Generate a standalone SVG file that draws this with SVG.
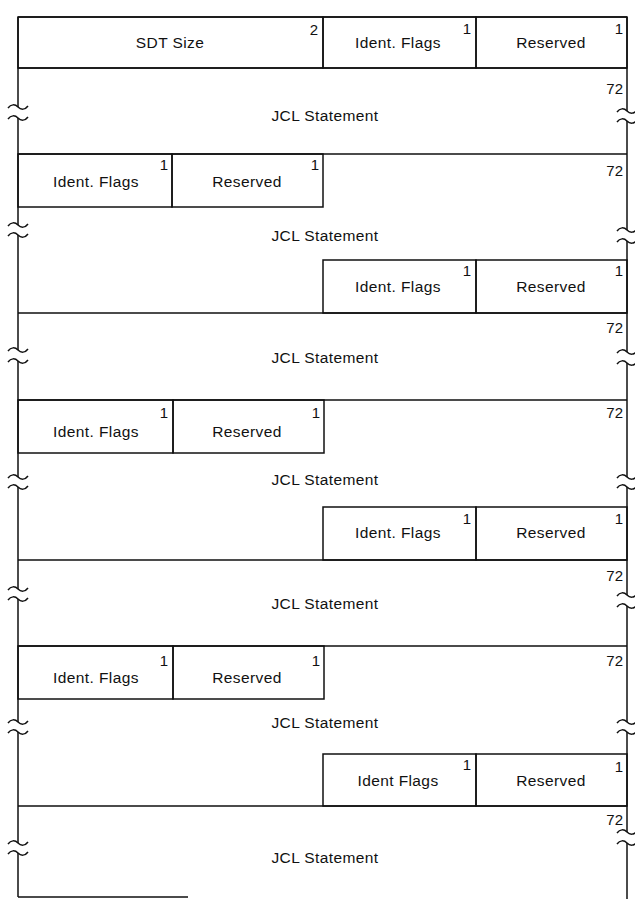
<svg xmlns="http://www.w3.org/2000/svg" width="635" height="899" viewBox="0 0 635 899">
<style>
.bx{fill:none;stroke:#111;stroke-width:1.5}
.ln{fill:none;stroke:#111;stroke-width:1.5}
.t{font-family:"Liberation Sans",Arial,sans-serif;font-size:15.5px;fill:#111;text-anchor:middle;letter-spacing:0.4px}
.n{font-family:"Liberation Sans",Arial,sans-serif;font-size:15px;fill:#111;text-anchor:end}
</style>
<defs>
<path id="tl" d="M-10,1 C-7,-3 -3,-3 0,0 C3,3 7,3 10,-1" class="ln"/>
</defs>
<rect width="635" height="899" fill="#fff"/>
<g id="connectors">
<path class="ln" d="M18,17H627M18,68H627M18,154H627M18,313H627M18,400H627M18,560H627M18,646H627M18,806H627M18,897H188"/>
<path class="ln" d="M18,17V107M18,118V225M18,235V350M18,361V477M18,487V589M18,599V722M18,732V843M18,853V897"/>
<path class="ln" d="M627,17V111M627,121V230M627,241V352M627,363V477M627,487V595M627,606V722M627,732V832M627,843V899"/>
<g id="breaks-left">
<use href="#tl" x="18" y="107"/><use href="#tl" x="18" y="118"/>
<use href="#tl" x="18" y="225"/><use href="#tl" x="18" y="235"/>
<use href="#tl" x="18" y="350"/><use href="#tl" x="18" y="361"/>
<use href="#tl" x="18" y="477"/><use href="#tl" x="18" y="487"/>
<use href="#tl" x="18" y="589"/><use href="#tl" x="18" y="599"/>
<use href="#tl" x="18" y="722"/><use href="#tl" x="18" y="732"/>
<use href="#tl" x="18" y="843"/><use href="#tl" x="18" y="853"/>
</g>
<g id="breaks-right">
<use href="#tl" x="627" y="111"/><use href="#tl" x="627" y="121"/>
<use href="#tl" x="627" y="230"/><use href="#tl" x="627" y="241"/>
<use href="#tl" x="627" y="352"/><use href="#tl" x="627" y="363"/>
<use href="#tl" x="627" y="477"/><use href="#tl" x="627" y="487"/>
<use href="#tl" x="627" y="595"/><use href="#tl" x="627" y="606"/>
<use href="#tl" x="627" y="722"/><use href="#tl" x="627" y="732"/>
<use href="#tl" x="627" y="832"/><use href="#tl" x="627" y="843"/>
</g>
</g>
<g id="sdt-size"><rect class="bx" x="18" y="17" width="305" height="51"/><text class="t" x="170" y="48">SDT Size</text><text class="n" x="318" y="35">2</text></g>
<g id="flags-1"><rect class="bx" x="323" y="17" width="153" height="51"/><text class="t" x="398" y="48">Ident. Flags</text><text class="n" x="471" y="34">1</text></g>
<g id="reserved-1"><rect class="bx" x="476" y="17" width="151" height="51"/><text class="t" x="551" y="48">Reserved</text><text class="n" x="623" y="34">1</text></g>
<g id="jcl-1"><text class="t" x="325" y="121">JCL Statement</text><text class="n" x="623" y="94">72</text></g>

<g id="flags-2"><rect class="bx" x="18" y="154" width="154" height="53"/><text class="t" x="96" y="187">Ident. Flags</text><text class="n" x="168" y="170">1</text></g>
<g id="reserved-2"><rect class="bx" x="172" y="154" width="151" height="53"/><text class="t" x="247" y="187">Reserved</text><text class="n" x="319" y="170">1</text></g>
<g id="jcl-2"><text class="t" x="325" y="241">JCL Statement</text><text class="n" x="623" y="176">72</text></g>
<g id="flags-3"><rect class="bx" x="323" y="260" width="153" height="53"/><text class="t" x="398" y="292">Ident. Flags</text><text class="n" x="471" y="276">1</text></g>
<g id="reserved-3"><rect class="bx" x="476" y="260" width="151" height="53"/><text class="t" x="551" y="292">Reserved</text><text class="n" x="623" y="276">1</text></g>
<g id="jcl-3"><text class="t" x="325" y="363">JCL Statement</text><text class="n" x="623" y="333">72</text></g>

<g id="flags-4"><rect class="bx" x="18" y="400" width="155" height="53"/><text class="t" x="96" y="437">Ident. Flags</text><text class="n" x="168" y="418">1</text></g>
<g id="reserved-4"><rect class="bx" x="173" y="400" width="151" height="53"/><text class="t" x="247" y="437">Reserved</text><text class="n" x="320" y="418">1</text></g>
<g id="jcl-4"><text class="t" x="325" y="485">JCL Statement</text><text class="n" x="623" y="418">72</text></g>
<g id="flags-5"><rect class="bx" x="323" y="507" width="153" height="53"/><text class="t" x="398" y="538">Ident. Flags</text><text class="n" x="471" y="524">1</text></g>
<g id="reserved-5"><rect class="bx" x="476" y="507" width="151" height="53"/><text class="t" x="551" y="538">Reserved</text><text class="n" x="623" y="524">1</text></g>
<g id="jcl-5"><text class="t" x="325" y="609">JCL Statement</text><text class="n" x="623" y="581">72</text></g>

<g id="flags-6"><rect class="bx" x="18" y="646" width="155" height="53"/><text class="t" x="96" y="683">Ident. Flags</text><text class="n" x="168" y="666">1</text></g>
<g id="reserved-6"><rect class="bx" x="173" y="646" width="151" height="53"/><text class="t" x="247" y="683">Reserved</text><text class="n" x="320" y="666">1</text></g>
<g id="jcl-6"><text class="t" x="325" y="728">JCL Statement</text><text class="n" x="623" y="666">72</text></g>
<g id="flags-7"><rect class="bx" x="323" y="754" width="153" height="52"/><text class="t" x="398" y="786">Ident Flags</text><text class="n" x="471" y="770">1</text></g>
<g id="reserved-7"><rect class="bx" x="476" y="754" width="151" height="52"/><text class="t" x="551" y="786">Reserved</text><text class="n" x="623" y="772">1</text></g>
<g id="jcl-7"><text class="t" x="325" y="863">JCL Statement</text><text class="n" x="623" y="825">72</text></g>
</svg>
